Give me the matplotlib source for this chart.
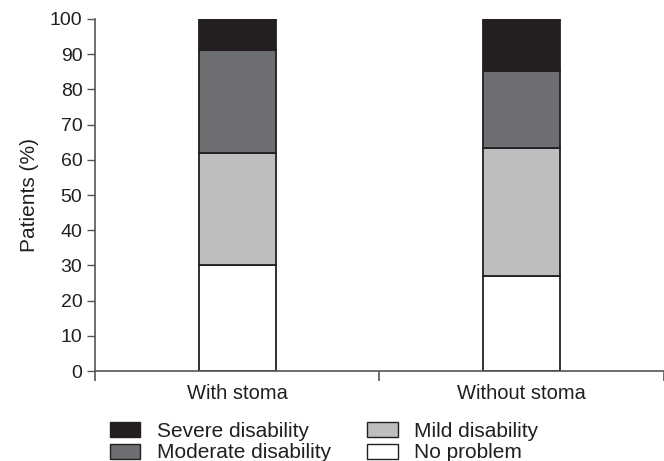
import numpy as np
import matplotlib
matplotlib.use('Agg')
import matplotlib.pyplot as plt
from matplotlib.patches import Patch

plt.rcParams['font.family'] = ['Liberation Sans', 'DejaVu Sans']

groups = ['With stoma', 'Without stoma']
levels = ['No problem', 'Mild disability', 'Moderate disability', 'Severe disability']
no_problem = [30.2, 27.0]
mild = [31.8, 36.4]
moderate = [29.2, 21.8]
severe = [8.8, 14.8]

colors = ['#ffffff', '#bcbec0', '#6d6e71', '#231f20']
edge = '#231f20'
txt = '#231f20'

fig = plt.figure(figsize=(6.64, 4.61), dpi=100)
ax = fig.add_axes([0.143, 0.195, 0.857, 0.764])

x = np.arange(len(groups))
bottom = np.zeros(len(groups))
for vals, c in zip([no_problem, mild, moderate, severe], colors):
    ax.bar(x, vals, width=0.27, bottom=bottom, color=c, edgecolor=edge, linewidth=1.3)
    bottom += np.array(vals)

ax.set_xlim(-0.5, 1.5)
ax.set_ylim(0, 100)
ax.set_yticks(range(0, 101, 10))
ax.set_xticks([-0.5, 0.5, 1.5])
ax.set_xticklabels([])
ax.set_xticks(x, minor=True)
ax.set_xticklabels(groups, minor=True)
ax.tick_params(axis='x', which='minor', length=0, pad=9, labelsize=14.5, colors=txt)
ax.tick_params(axis='x', which='major', length=7, width=1.2, color='#555555')
ax.tick_params(axis='y', length=6, width=1, labelsize=14, pad=3, color='#555555', labelcolor=txt)
ax.spines['top'].set_visible(False)
ax.spines['right'].set_visible(False)
ax.spines['left'].set_color('#555555')
ax.spines['bottom'].set_color('#555555')
ax.spines['left'].set_linewidth(1.2)
ax.spines['bottom'].set_linewidth(1.2)
ax.set_ylabel('Patients (%)', fontsize=15, color=txt, labelpad=8)

handles = [Patch(facecolor=colors[3], edgecolor=edge, label=levels[3]),
           Patch(facecolor=colors[2], edgecolor=edge, label=levels[2]),
           Patch(facecolor=colors[1], edgecolor=edge, label=levels[1]),
           Patch(facecolor=colors[0], edgecolor=edge, label=levels[0])]
fig.legend(handles=handles, ncol=2, loc='upper left', bbox_to_anchor=(110 / 664, 1 - 422 / 461),
           frameon=False, fontsize=15, handlelength=1.45, handleheight=0.72,
           columnspacing=1.75, labelspacing=0.12, handletextpad=0.8,
           borderpad=0, borderaxespad=0, labelcolor=txt)

fig.savefig('out.png', dpi=100)
